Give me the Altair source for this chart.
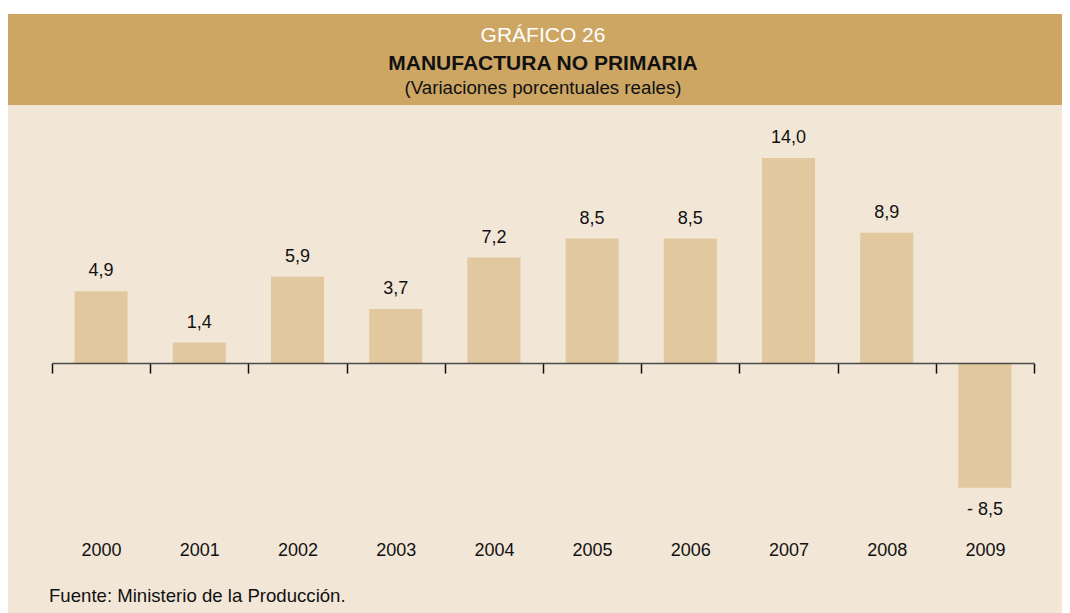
import altair as alt
import pandas as pd

years = ["2000", "2001", "2002", "2003", "2004", "2005", "2006", "2007", "2008", "2009"]
values = [4.9, 1.4, 5.9, 3.7, 7.2, 8.5, 8.5, 14.0, 8.9, -8.5]
labels = ["4,9", "1,4", "5,9", "3,7", "7,2", "8,5", "8,5", "14,0", "8,9", "- 8,5"]

title_top = "GRÁFICO 26"
title_main = "MANUFACTURA NO PRIMARIA"
title_sub = "(Variaciones porcentuales reales)"
source = "Fuente: Ministerio de la Producción."

HEADER = "#CDA664"
BODY = "#F2E6D6"
BAR = "#E1C89E"
FONT = "Liberation Sans"

W, H = 982, 381
PAD_L, PAD_T, PAD_R, PAD_B = 44, 106, 28, 118
Y_MIN, Y_MAX = -9, 17
zero_px = H * Y_MAX / (Y_MAX - Y_MIN)

df = pd.DataFrame({"year": years, "value": values, "label": labels})

one = alt.Data(values=[{"a": 1}])

x_enc = alt.X(
    "year:N",
    sort=years,
    title=None,
    scale=alt.Scale(paddingInner=0, paddingOuter=0),
    axis=alt.Axis(
        orient="bottom",
        offset=-(H - zero_px),
        tickBand="extent",
        tickSize=10,
        tickWidth=1.5,
        tickColor="#111111",
        domainColor="#4a4a4a",
        domainWidth=1.5,
        labelAngle=0,
        labelFont=FONT,
        labelFontSize=18,
        labelColor="#111111",
        labelPadding=168,
        grid=False,
        zindex=1,
    ),
)
y_enc = alt.Y("value:Q", axis=None, scale=alt.Scale(domain=[Y_MIN, Y_MAX], nice=False, zero=True))

body_bg = alt.Chart(one).mark_rect(color=BODY).encode(
    x=alt.value(-PAD_L), x2=alt.value(W + PAD_R + 20), y=alt.value(-PAD_T + 6), y2=alt.value(H + PAD_B)
)
header_bg = alt.Chart(one).mark_rect(color=HEADER).encode(
    x=alt.value(-PAD_L), x2=alt.value(W + PAD_R + 20), y=alt.value(-PAD_T + 6), y2=alt.value(-9)
)

bars = alt.Chart(df).mark_bar(color=BAR, width=alt.RelativeBandSize(0.54)).encode(
    x=x_enc, y=y_enc, y2=alt.datum(0)
)

pos_text = alt.Chart(df).transform_filter("datum.value >= 0").mark_text(
    font=FONT, fontSize=18, color="#111111", baseline="middle", dy=-20
).encode(x=alt.X("year:N", sort=years), y=y_enc, text="label:N")
neg_text = alt.Chart(df).transform_filter("datum.value < 0").mark_text(
    font=FONT, fontSize=18, color="#111111", baseline="middle", dy=22
).encode(x=alt.X("year:N", sort=years), y=y_enc, text="label:N")

t1 = alt.Chart(one).mark_text(font=FONT, fontSize=21, color="white", baseline="middle").encode(
    x=alt.value(W / 2), y=alt.value(36 - 114), text=alt.value(title_top)
)
t2 = alt.Chart(one).mark_text(font=FONT, fontSize=21, fontWeight="bold", color="#111111", baseline="middle").encode(
    x=alt.value(W / 2), y=alt.value(64 - 114), text=alt.value(title_main)
)
t3 = alt.Chart(one).mark_text(font=FONT, fontSize=18.7, color="#111111", baseline="middle").encode(
    x=alt.value(W / 2), y=alt.value(88 - 114), text=alt.value(title_sub)
)
foot = alt.Chart(one).mark_text(font=FONT, fontSize=18.6, color="#111111", baseline="middle", align="left").encode(
    x=alt.value(49 - 52), y=alt.value(596 - 114), text=alt.value(source)
)

chart = alt.layer(body_bg, header_bg, bars, pos_text, neg_text, t1, t2, t3, foot).properties(
    width=W,
    height=H,
    padding={"left": PAD_L, "top": PAD_T, "right": PAD_R, "bottom": PAD_B},
    autosize=alt.AutoSizeParams(type="none"),
    background="white",
).configure_view(stroke=None)

chart.save("out.html", embed_options={"renderer": "svg", "actions": False})
